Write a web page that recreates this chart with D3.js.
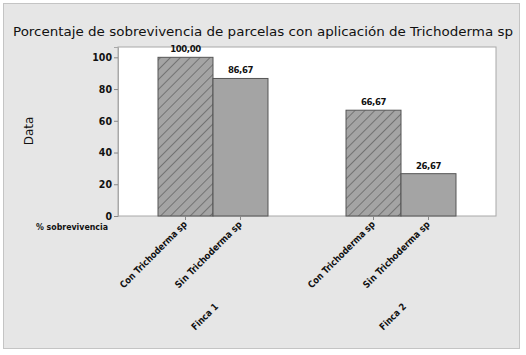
<!DOCTYPE html>
<html><head><meta charset="utf-8">
<script src="https://cdn.jsdelivr.net/npm/d3@7"></script>
<style>
html,body{margin:0;padding:0;background:#fff;}
svg{display:block;}
</style></head>
<body>
<script>
const fincas = ["Finca 1", "Finca 2"];
const treatments = ["Con Trichoderma sp", "Sin Trichoderma sp"];
const values = {
  "Finca 1": [100.00, 86.67],
  "Finca 2": [66.67, 26.67]
};
const valueLabels = {
  "Finca 1": ["100,00", "86,67"],
  "Finca 2": ["66,67", "26,67"]
};
const yTicks = [0, 20, 40, 60, 80, 100];

const W = 526, H = 355;
const plot = {left: 118, right: 496, top: 47, bottom: 216};
const labelFont = "'DejaVu Sans Condensed','Liberation Sans Narrow','Liberation Sans',sans-serif";

const svg = d3.select("body").append("svg").attr("width", W).attr("height", H);

const defs = svg.append("defs");
const pat = defs.append("pattern").attr("id", "hatch").attr("patternUnits", "userSpaceOnUse")
  .attr("width", 7).attr("height", 7).attr("patternTransform", "rotate(45)");
pat.append("rect").attr("width", 7).attr("height", 7).attr("fill", "#a4a4a4");
pat.append("line").attr("x1", 0).attr("y1", 0).attr("x2", 0).attr("y2", 7)
  .attr("stroke", "#4a4a4a").attr("stroke-width", 1.1);

// background
svg.append("rect").attr("x", 0).attr("y", 0).attr("width", W).attr("height", H).attr("fill", "#ffffff");
svg.append("rect").attr("x", 3.5).attr("y", 3.5).attr("width", 516).attr("height", 345)
  .attr("fill", "#e6e6e6").attr("stroke", "#c4c4c4");

// title
svg.append("text").attr("x", 263).attr("y", 36).attr("text-anchor", "middle")
  .attr("font-family", "'DejaVu Sans',sans-serif").attr("font-size", 13).attr("fill", "#111")
  .attr("textLength", 500).attr("lengthAdjust", "spacingAndGlyphs")
  .text("Porcentaje de sobrevivencia de parcelas con aplicación de Trichoderma sp");

// plot area
svg.append("rect").attr("x", plot.left).attr("y", plot.top)
  .attr("width", plot.right - plot.left).attr("height", plot.bottom - plot.top)
  .attr("fill", "#ffffff").attr("stroke", "#a8a8a8");

const y = d3.scaleLinear().domain([0, 106.5]).range([plot.bottom, plot.top]);
const x0 = d3.scaleBand().domain(fincas).range([plot.left, plot.right])
  .paddingInner(0.415).paddingOuter(0.2128);
const x1 = d3.scaleBand().domain(treatments).range([0, x0.bandwidth()]).padding(0);

// y axis
const yAxis = svg.append("g").attr("transform", `translate(${plot.left},0)`)
  .call(d3.axisLeft(y).tickValues(yTicks).tickSize(4).tickPadding(2));
yAxis.select(".domain").attr("stroke", "#a8a8a8");
yAxis.selectAll(".tick line").attr("stroke", "#888");
yAxis.selectAll(".tick text").attr("font-family", labelFont).attr("font-weight", "bold")
  .attr("font-size", 10.5).attr("fill", "#111");

// bars
const rows = f => treatments.map((t, i) => ({f, t, v: values[f][i], lab: valueLabels[f][i]}));
const groups = svg.append("g").selectAll("g").data(fincas).join("g")
  .attr("transform", d => `translate(${x0(d)},0)`);
groups.selectAll("rect").data(rows)
  .join("rect")
  .attr("x", d => x1(d.t)).attr("y", d => y(d.v))
  .attr("width", x1.bandwidth()).attr("height", d => y(0) - y(d.v))
  .attr("fill", d => d.t === treatments[0] ? "url(#hatch)" : "#a4a4a4")
  .attr("stroke", "#555").attr("stroke-width", 1);
groups.selectAll("text.val").data(rows)
  .join("text").attr("class", "val")
  .attr("x", d => x1(d.t) + x1.bandwidth() / 2).attr("y", d => y(d.v) - 5)
  .attr("text-anchor", "middle").attr("font-family", labelFont).attr("font-weight", "bold")
  .attr("font-size", 9.5).attr("letter-spacing", -0.4).attr("fill", "#111").text(d => d.lab);

// x ticks and labels
fincas.forEach(f => {
  treatments.forEach(t => {
    const cx = x0(f) + x1(t) + x1.bandwidth() / 2;
    svg.append("line").attr("x1", cx).attr("x2", cx).attr("y1", plot.bottom).attr("y2", plot.bottom + 4)
      .attr("stroke", "#888");
    svg.append("text").attr("transform", `translate(${cx + 2},${plot.bottom + 9}) rotate(-45)`)
      .attr("text-anchor", "end").attr("font-family", labelFont).attr("font-weight", "bold")
      .attr("font-size", 9.5).attr("fill", "#111")
      .attr("textLength", 90).attr("lengthAdjust", "spacingAndGlyphs").text(t);
  });
  const gx = x0(f) + x0.bandwidth() / 2;
  svg.append("text").attr("transform", `translate(${gx - 6},${plot.bottom + 103}) rotate(-45)`)
    .attr("text-anchor", "middle").attr("font-family", labelFont).attr("font-weight", "bold")
    .attr("font-size", 9.5).attr("fill", "#111")
    .attr("textLength", 33).attr("lengthAdjust", "spacingAndGlyphs").text(f);
});

// axis labels
svg.append("text").attr("transform", `translate(33,131) rotate(-90)`).attr("text-anchor", "middle")
  .attr("font-family", "'DejaVu Sans',sans-serif").attr("font-size", 12).attr("fill", "#111").text("Data");
svg.append("text").attr("x", 108).attr("y", 230).attr("text-anchor", "end")
  .attr("font-family", labelFont).attr("font-weight", "bold").attr("font-size", 9.5)
  .attr("textLength", 72).attr("lengthAdjust", "spacingAndGlyphs")
  .attr("fill", "#111").text("% sobrevivencia");
</script>
</body></html>
